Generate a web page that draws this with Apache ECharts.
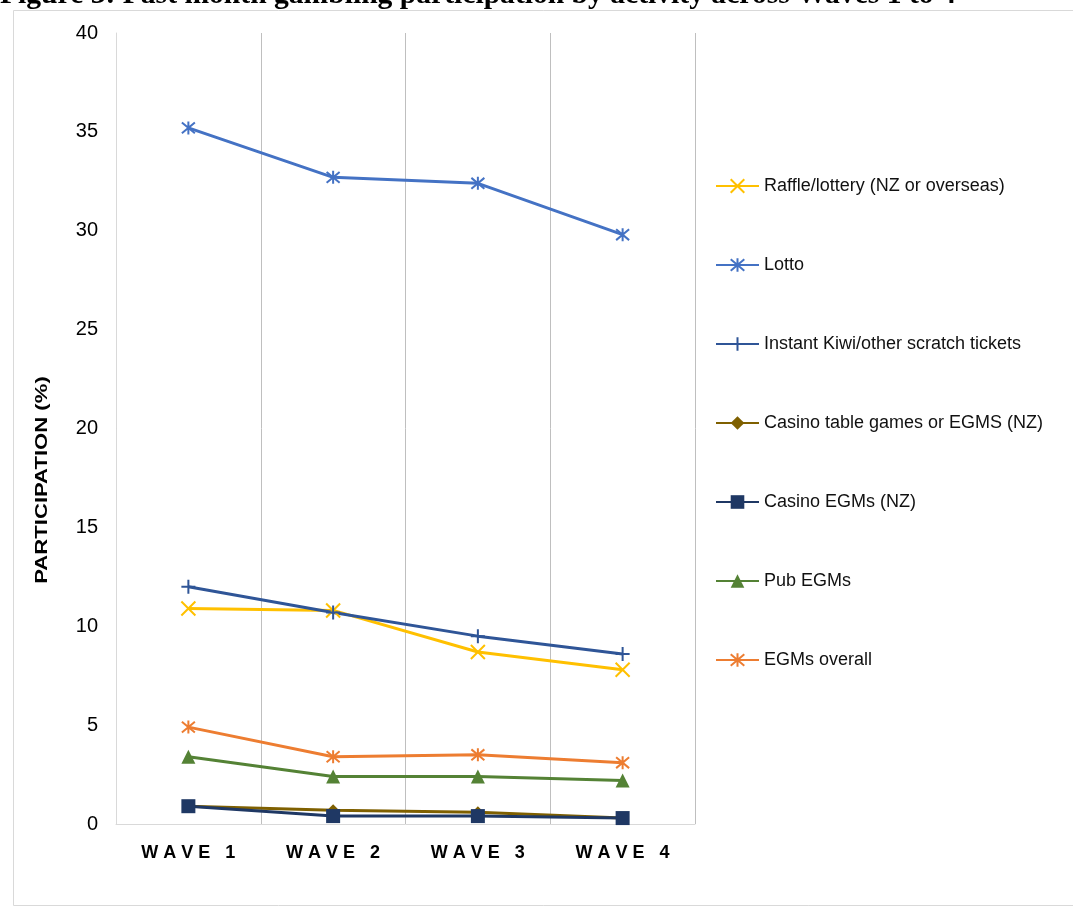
<!DOCTYPE html>
<html>
<head>
<meta charset="utf-8">
<script src="https://cdn.jsdelivr.net/npm/echarts@6/dist/echarts.min.js"></script>
<style>
  html, body { margin: 0; padding: 0; background: #fff; }
  #chart { width: 1073px; height: 907px; }
</style>
</head>
<body>
<div id="chart"></div>
<script>
// Past month gambling participation (%) by activity, Waves 1 to 4
const waves = ['WAVE 1', 'WAVE 2', 'WAVE 3', 'WAVE 4'];
const yTicks = [0, 5, 10, 15, 20, 25, 30, 35, 40];

const raffle       = [10.9, 10.8, 8.7, 7.8];
const lotto        = [35.2, 32.7, 32.4, 29.8];
const instantKiwi  = [12.0, 10.7, 9.5, 8.6];
const casinoTable  = [0.9, 0.7, 0.6, 0.3];
const casinoEGMs   = [0.9, 0.4, 0.4, 0.3];
const pubEGMs      = [3.4, 2.4, 2.4, 2.2];
const egmsOverall  = [4.9, 3.4, 3.5, 3.1];

// stroke-only marker shapes
const X_MARK = 'path://M0,0L10,10M10,0L0,10';
const STAR_MARK = 'path://M0,0L10,10M10,0L0,10M5,-1L5,11';
const PLUS_MARK = 'path://M5,0L5,10M0,5L10,5';

function lineSeries(name, data, color, symbol, size, stroked) {
  return {
    name: name,
    type: 'line',
    data: data,
    symbol: symbol,
    symbolSize: size,
    showAllSymbol: true,
    lineStyle: { color: color, width: 3 },
    itemStyle: stroked
      ? { color: color, borderColor: color, borderWidth: 2 }
      : { color: color, borderWidth: 0 },
    emphasis: { disabled: true },
    animation: false
  };
}

// letter-spaced wave labels built with rich text segments
function spaced(label) {
  return label.split('').map(ch => '{c|' + (ch === ' ' ? '\u00a0' : ch) + '}').join('');
}

const chart = echarts.init(document.getElementById('chart'), null, { renderer: 'canvas' });

chart.setOption({
  backgroundColor: '#ffffff',
  animation: false,
  grid: { left: 116, right: 378, top: 33, bottom: 83, containLabel: false },
  graphic: [
    {
      type: 'rect',
      shape: { x: 13.5, y: 10.5, width: 1100, height: 895 },
      style: { fill: 'none', stroke: '#d9d9d9', lineWidth: 1 },
      silent: true, z: -1
    },
    {
      type: 'text',
      x: 0, y: -5,
      style: {
        text: 'Figure 3: Past month gambling participation by activity across Waves 1 to 4',
        font: 'bold 29.6px "Liberation Serif", "Times New Roman", serif',
        fill: '#000',
        align: 'left',
        verticalAlign: 'middle'
      },
      silent: true
    },
    {
      type: 'text',
      x: 42, y: 480,
      rotation: Math.PI / 2,
      scaleX: 1.3,
      style: {
        text: 'PARTICIPATION (%)',
        font: 'bold 17px "Liberation Sans", Arial, sans-serif',
        fill: '#000',
        align: 'center',
        verticalAlign: 'middle'
      },
      silent: true
    }
  ],
  legend: {
    orient: 'vertical',
    left: 715,
    top: 177,
    padding: 0,
    itemWidth: 43,
    itemHeight: 17,
    itemGap: 61,
    textStyle: {
      fontFamily: '"Liberation Sans", Arial, sans-serif',
      fontSize: 18,
      color: '#111'
    },
    selectedMode: false,
    data: [
      'Raffle/lottery (NZ or overseas)',
      'Lotto',
      'Instant Kiwi/other scratch tickets',
      'Casino table games or EGMS (NZ)',
      'Casino EGMs (NZ)',
      'Pub EGMs',
      'EGMs overall'
    ]
  },
  xAxis: {
    type: 'category',
    data: waves,
    boundaryGap: true,
    axisLine: { show: true, lineStyle: { color: '#d9d9d9', width: 1 } },
    axisTick: { show: false },
    splitLine: { show: true, lineStyle: { color: '#bfbfbf', width: 1 } },
    axisLabel: {
      margin: 20,
      interval: 0,
      formatter: spaced,
      rich: {
        c: {
          fontFamily: '"Liberation Sans", Arial, sans-serif',
          fontWeight: 'bold',
          fontSize: 18,
          color: '#000',
          padding: [0, 2.5, 0, 2.5]
        }
      }
    }
  },
  yAxis: {
    type: 'value',
    min: yTicks[0],
    max: yTicks[yTicks.length - 1],
    interval: 5,
    axisLine: { show: true, lineStyle: { color: '#d9d9d9', width: 1 } },
    axisTick: { show: false },
    splitLine: { show: false },
    axisLabel: {
      margin: 18,
      fontFamily: '"Liberation Sans", Arial, sans-serif',
      fontSize: 20,
      color: '#000'
    }
  },
  series: [
    lineSeries('Raffle/lottery (NZ or overseas)', raffle, '#ffc000', X_MARK, 14, true),
    lineSeries('Lotto', lotto, '#4472c4', STAR_MARK, 13, true),
    lineSeries('Instant Kiwi/other scratch tickets', instantKiwi, '#2f5597', PLUS_MARK, 14, true),
    lineSeries('Casino table games or EGMS (NZ)', casinoTable, '#7f6000', 'diamond', 12, false),
    lineSeries('Casino EGMs (NZ)', casinoEGMs, '#1f3864', 'rect', 14, false),
    lineSeries('Pub EGMs', pubEGMs, '#548235', 'triangle', 14, false),
    lineSeries('EGMs overall', egmsOverall, '#ed7d31', STAR_MARK, 13, true)
  ]
});
</script>
</body>
</html>
